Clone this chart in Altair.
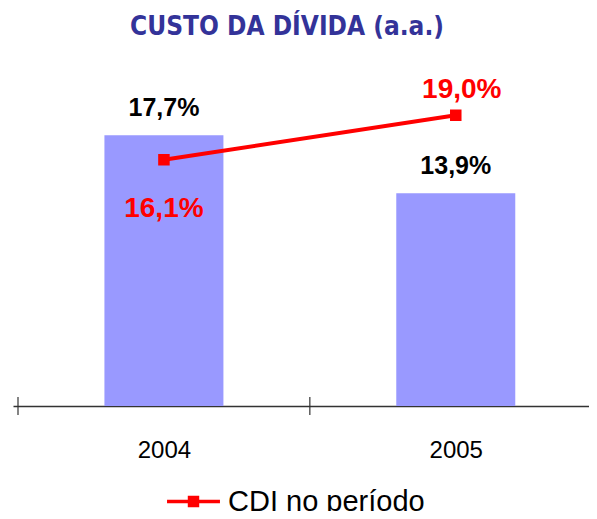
import altair as alt
import pandas as pd

anos = ["2004", "2005"]
custo = [17.7, 13.9]
cdi = [16.1, 19.0]
serie = "CDI no período"
titulo = "CUSTO DA DÍVIDA (a.a.)"

W, H = 576, 306

df = pd.DataFrame({
    "ano": anos,
    "pos": [i + 0.5 for i in range(len(anos))],
    "custo": custo,
    "cdi": cdi,
    "serie": [serie] * len(anos),
})
ticks = pd.DataFrame({"t": list(range(len(anos)))})

xs = alt.Scale(domain=[0, W / 297.0], nice=False, zero=False)
ys = alt.Scale(domain=[0, 20], nice=False)

label_expr = " : ".join(
    [f"datum.value == {i + 0.5} ? '{a}'" for i, a in enumerate(anos)]
) + " : ''"

base = alt.Chart(df)

bars = base.mark_bar(color="#9999FF", size=119).encode(
    x=alt.X("pos:Q", scale=xs, title=None,
            axis=alt.Axis(values=[i + 0.5 for i in range(len(anos))],
                          labelExpr=label_expr, ticks=False, grid=False,
                          domainColor="#333333", domainWidth=1.5,
                          labelFont="Liberation Sans", labelFontSize=24,
                          labelColor="#000000", labelPadding=32)),
    y=alt.Y("custo:Q", scale=ys, axis=None),
)

fmt = "replace(format(datum.{f}, '.1f'), '.', ',') + '%'"

bar_labels = base.transform_calculate(lab=fmt.format(f="custo")).mark_text(
    font="Liberation Sans", fontSize=25, fontWeight="bold", color="#000000",
    baseline="middle", dy=-27
).encode(x=alt.X("pos:Q", scale=xs), y=alt.Y("custo:Q", scale=ys), text="lab:N")

color = alt.Color("serie:N", scale=alt.Scale(range=["#FF0000"]),
                  legend=alt.Legend(
                      title=None, orient="none", legendX=152, legendY=373,
                      symbolType="M-1,0H1M-0.15,-0.15H0.15V0.15H-0.15Z",
                      symbolSize=2800, symbolFillColor="#FF0000",
                      symbolStrokeColor="#FF0000", symbolStrokeWidth=3.5,
                      symbolOpacity=1,
                      labelFont="Liberation Sans", labelFontSize=29,
                      labelColor="#000000", labelOffset=6, labelLimit=400))

line = base.mark_line(strokeWidth=4, color="#FF0000").encode(
    x=alt.X("pos:Q", scale=xs), y=alt.Y("cdi:Q", scale=ys))
pts = base.mark_point(shape="square", filled=True, size=64, opacity=1,
                      stroke="#FF0000", strokeWidth=3.5).encode(
    x=alt.X("pos:Q", scale=xs), y=alt.Y("cdi:Q", scale=ys), color=color)

lab_style = dict(font="Liberation Sans", fontSize=28, fontWeight="bold",
                 color="#FF0000", baseline="middle")
cdi_lab1 = base.transform_filter(f"datum.ano == '{anos[0]}'").transform_calculate(
    lab=fmt.format(f="cdi")).mark_text(dy=49, **lab_style).encode(
    x=alt.X("pos:Q", scale=xs), y=alt.Y("cdi:Q", scale=ys), text="lab:N")
cdi_lab2 = base.transform_filter(f"datum.ano == '{anos[1]}'").transform_calculate(
    lab=fmt.format(f="cdi")).mark_text(dy=-25, dx=6, **lab_style).encode(
    x=alt.X("pos:Q", scale=xs), y=alt.Y("cdi:Q", scale=ys), text="lab:N")

tick_rules = alt.Chart(ticks).mark_rule(color="#333333", strokeWidth=1.2).encode(
    x=alt.X("t:Q", scale=xs), y=alt.value(H - 9), y2=alt.value(H + 9))

chart = alt.layer(bars, tick_rules, bar_labels, line, pts, cdi_lab1, cdi_lab2).properties(
    width=W, height=H,
    title=alt.TitleParams(titulo, font="DejaVu Sans Condensed", fontSize=26,
                          fontWeight="bold", color="#333399", anchor="middle",
                          dx=-14, offset=36),
    autosize=alt.AutoSizeParams(type="none"),
    padding={"left": 5, "top": 92, "right": 0, "bottom": 105},
).configure_view(stroke=None)

chart.save("out.html", embed_options={"renderer": "svg", "actions": False})
